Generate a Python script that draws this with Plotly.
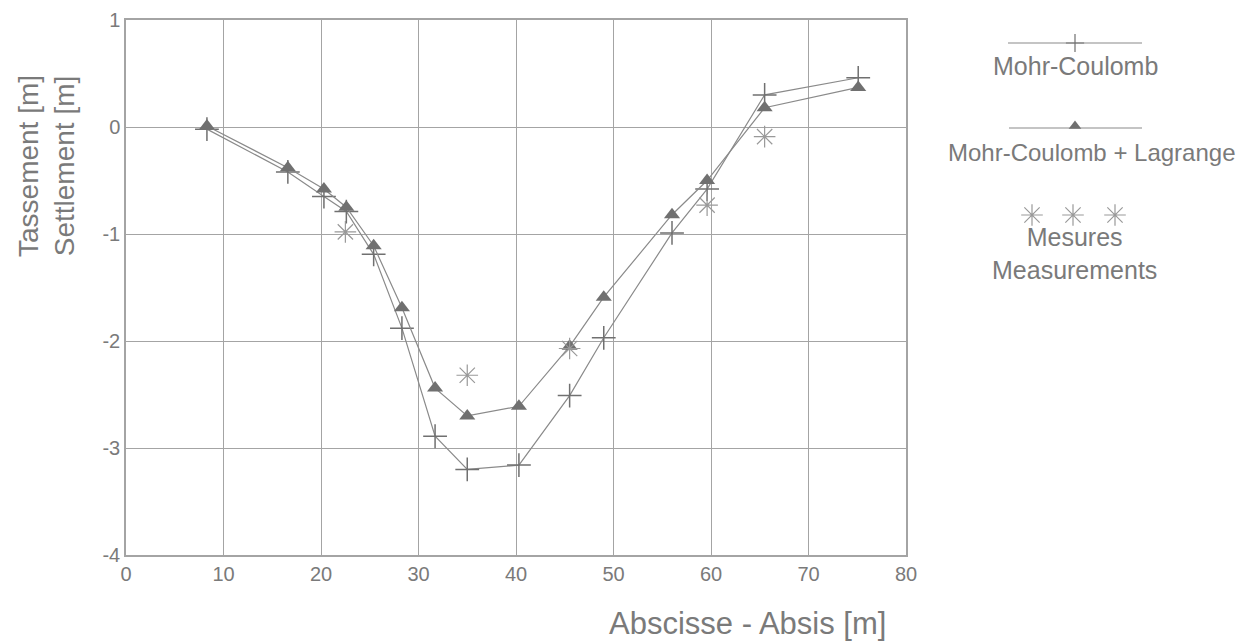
import plotly.graph_objects as go

# Data
mc_x = [8.3, 16.6, 20.3, 22.6, 25.4, 28.3, 31.7, 35.0, 40.3, 45.5, 49.0, 56.0, 59.6, 65.5, 75.1]
mc_y = [-0.02, -0.42, -0.65, -0.79, -1.19, -1.88, -2.89, -3.20, -3.16, -2.51, -1.97, -0.99, -0.58, 0.30, 0.46]
mcl_x = [8.3, 16.6, 20.3, 22.6, 25.4, 28.3, 31.7, 35.0, 40.3, 45.5, 49.0, 56.0, 59.6, 65.5, 75.1]
mcl_y = [0.01, -0.38, -0.58, -0.75, -1.11, -1.69, -2.44, -2.70, -2.61, -2.05, -1.59, -0.82, -0.50, 0.18, 0.37]
meas_x = [22.5, 35.0, 45.5, 59.6, 65.5]
meas_y = [-0.98, -2.32, -2.07, -0.73, -0.09]

x_ticks = [0, 10, 20, 30, 40, 50, 60, 70, 80]
y_ticks = [1, 0, -1, -2, -3, -4]
y_tick_text = ["1", "0", "-1", "-2", "-3", "-4"]

legend_names = ["Mohr-Coulomb", "Mohr-Coulomb + Lagrange", "Mesures<br>Measurements"]

LINE = "#8a8a8a"
MARK = "#707070"
STAR = "#999999"
TXT = "#7a7a7a"
GRID = "#a4a4a4"
FONT = "Liberation Sans, Arial, sans-serif"
W, H = 1254, 643

fig = go.Figure()

fig.add_trace(go.Scatter(
    x=mc_x, y=mc_y, mode="lines+markers", name=legend_names[0],
    line=dict(color=LINE, width=1.2),
    marker=dict(symbol="cross-thin", size=17, color=MARK, line=dict(color=MARK, width=1.5)),
    showlegend=False))
fig.add_trace(go.Scatter(
    x=mcl_x, y=mcl_y, mode="lines+markers", name=legend_names[1],
    line=dict(color=LINE, width=1.2),
    marker=dict(symbol="triangle-up", size=14, color=MARK, line=dict(width=0)),
    showlegend=False))
fig.add_trace(go.Scatter(
    x=meas_x, y=meas_y, mode="markers", name=legend_names[2],
    marker=dict(symbol="asterisk-open", size=18, color=STAR, line=dict(color=STAR, width=1.2)),
    showlegend=False))

# Legend drawn in a full-figure overlay subplot (pixel coordinates)
fig.add_trace(go.Scatter(
    x=[1008, 1142], y=[43, 43], mode="lines", line=dict(color=LINE, width=1.2),
    xaxis="x2", yaxis="y2", showlegend=False, hoverinfo="skip"))
fig.add_trace(go.Scatter(
    x=[1075], y=[43], mode="markers",
    marker=dict(symbol="cross-thin", size=13, color=MARK, line=dict(color=MARK, width=1.2)),
    xaxis="x2", yaxis="y2", showlegend=False, hoverinfo="skip"))
fig.add_trace(go.Scatter(
    x=[1009, 1142], y=[128, 128], mode="lines", line=dict(color=LINE, width=1.2),
    xaxis="x2", yaxis="y2", showlegend=False, hoverinfo="skip"))
fig.add_trace(go.Scatter(
    x=[1075], y=[126], mode="markers",
    marker=dict(symbol="triangle-up", size=11, color=MARK, line=dict(width=0)),
    xaxis="x2", yaxis="y2", showlegend=False, hoverinfo="skip"))
fig.add_trace(go.Scatter(
    x=[1032, 1073, 1115], y=[215, 215, 215], mode="markers",
    marker=dict(symbol="asterisk-open", size=18, color=STAR, line=dict(color=STAR, width=1.2)),
    xaxis="x2", yaxis="y2", showlegend=False, hoverinfo="skip"))

annotations = [
    dict(x=1075, y=66, xref="x2", yref="y2", text=legend_names[0], showarrow=False,
         font=dict(size=25, color=TXT, family=FONT)),
    dict(x=1092, y=152, xref="x2", yref="y2", text=legend_names[1], showarrow=False,
         font=dict(size=24, color=TXT, family=FONT)),
    dict(x=1074, y=253, xref="x2", yref="y2", text=legend_names[2], showarrow=False,
         font=dict(size=25, color=TXT, family=FONT)),
    dict(x=46, y=166, xref="x2", yref="y2", text="Tassement [m]<br>Settlement [m]",
         showarrow=False, textangle=-90,
         font=dict(size=28, color=TXT, family=FONT)),
    dict(x=747, y=623, xref="x2", yref="y2", text="Abscisse - Absis [m]",
         showarrow=False, font=dict(size=31, color=TXT, family=FONT)),
]

fig.update_layout(
    width=W, height=H,
    margin=dict(l=0, r=0, t=0, b=0, pad=0, autoexpand=False),
    paper_bgcolor="white", plot_bgcolor="rgba(0,0,0,0)",
    font=dict(family=FONT, color=TXT, size=20),
    xaxis=dict(domain=[126 / W, 906 / W], range=[0, 80], tickvals=x_ticks,
               showgrid=True, gridcolor=GRID, gridwidth=1, automargin=False,
               zeroline=False, showline=True, linecolor=GRID, linewidth=1.5, mirror=True,
               ticks="", tickfont=dict(size=20, color=TXT), anchor="y"),
    yaxis=dict(domain=[1 - 555 / H, 1 - 20 / H], range=[-4, 1], tickvals=y_ticks,
               ticktext=y_tick_text,
               showgrid=True, gridcolor=GRID, gridwidth=1, automargin=False,
               zeroline=False, showline=True, linecolor=GRID, linewidth=1.5, mirror=True,
               ticks="", tickfont=dict(size=20, color=TXT), anchor="x"),
    xaxis2=dict(domain=[0, 1], range=[0, W], anchor="y2", visible=False,
                fixedrange=True, automargin=False),
    yaxis2=dict(domain=[0, 1], range=[H, 0], anchor="x2", visible=False,
                fixedrange=True, automargin=False),
    annotations=annotations,
    showlegend=False,
)

fig.write_html("out.html")
